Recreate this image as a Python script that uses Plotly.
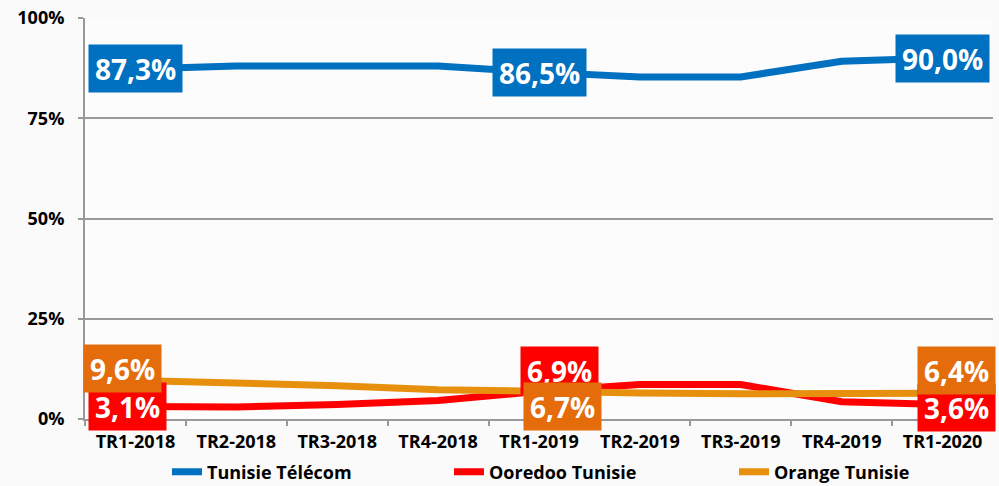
import plotly.graph_objects as go

categories = ["TR1-2018", "TR2-2018", "TR3-2018", "TR4-2018", "TR1-2019",
              "TR2-2019", "TR3-2019", "TR4-2019", "TR1-2020"]
tunisie_telecom = [87.3, 88.0, 88.0, 88.0, 86.5, 85.3, 85.3, 89.2, 90.0]
ooredoo = [3.1, 3.0, 3.6, 4.6, 6.9, 8.6, 8.6, 4.3, 3.6]
orange = [9.6, 9.0, 8.3, 7.3, 6.7, 6.5, 6.3, 6.5, 6.4]
y_ticks = [0, 25, 50, 75, 100]
y_tick_labels = ["0%", "25%", "50%", "75%", "100%"]
label_idx = [0, 4, 8]

series = [
    ("Tunisie Télécom", tunisie_telecom, "#0070C0", "#0070C0", [(0, 0), (0, 0), (0, 0)], "legend", 167),
    ("Ooredoo Tunisie", ooredoo, "#FF0000", "#FF0000", [(-8, 0), (20, 21), (14, -3)], "legend2", 449),
    ("Orange Tunisie", orange, "#E6900E", "#E46C0A", [(-13, 12), (23, -14), (14, 23)], "legend3", 734),
]

fig = go.Figure()
annotations = []
legends = {}
for name, vals, lc, bc, shifts, leg, lx in series:
    fig.add_trace(go.Scatter(x=categories, y=vals, name=name, mode="lines",
                             line=dict(color=lc, width=7), legend=leg))
    legends[leg] = dict(x=lx / 999, xanchor="left", xref="container",
                        y=14 / 486, yanchor="middle", yref="container",
                        font=dict(size=18, weight="bold"), bgcolor="rgba(0,0,0,0)")
    for (dx, dy), i in zip(shifts, label_idx):
        annotations.append(dict(
            x=categories[i], y=vals[i], xref="x", yref="y",
            text=f"{vals[i]:.1f}".replace(".", ",") + "%",
            showarrow=False, bgcolor=bc, borderpad=6, height=35,
            xshift=dx, yshift=dy,
            font=dict(family="Open Sans", size=28, color="white", weight="bold"),
        ))

fig.update_layout(
    width=999, height=486,
    margin=dict(l=85, r=6, t=18, b=67, autoexpand=False),
    paper_bgcolor="#fafafa", plot_bgcolor="#fcfcfc",
    font=dict(family="Open Sans", color="black"),
    showlegend=True,
    annotations=annotations,
    **legends,
)
fig.update_xaxes(type="category", range=[-0.5, 8.5], showline=True, linecolor="#999999",
                 linewidth=2, ticks="outside", tickson="boundaries", ticklen=5,
                 tickcolor="#999999", tickwidth=2, showgrid=False,
                 ticklabelstandoff=5, ticklabeloverflow="allow",
                 tickfont=dict(size=18, weight="bold"))
fig.update_yaxes(range=[0, 100], tickvals=y_ticks, ticktext=y_tick_labels, showline=True,
                 linecolor="#999999", linewidth=2, ticks="outside", ticklen=5,
                 tickcolor="#999999", tickwidth=2, gridcolor="#999999", gridwidth=2,
                 zeroline=False, ticklabelstandoff=10, ticklabeloverflow="allow",
                 tickfont=dict(size=18, weight="bold"))

fig.write_html("out.html", config={"displayModeBar": False},
               post_script="document.body.style.margin='0';")
